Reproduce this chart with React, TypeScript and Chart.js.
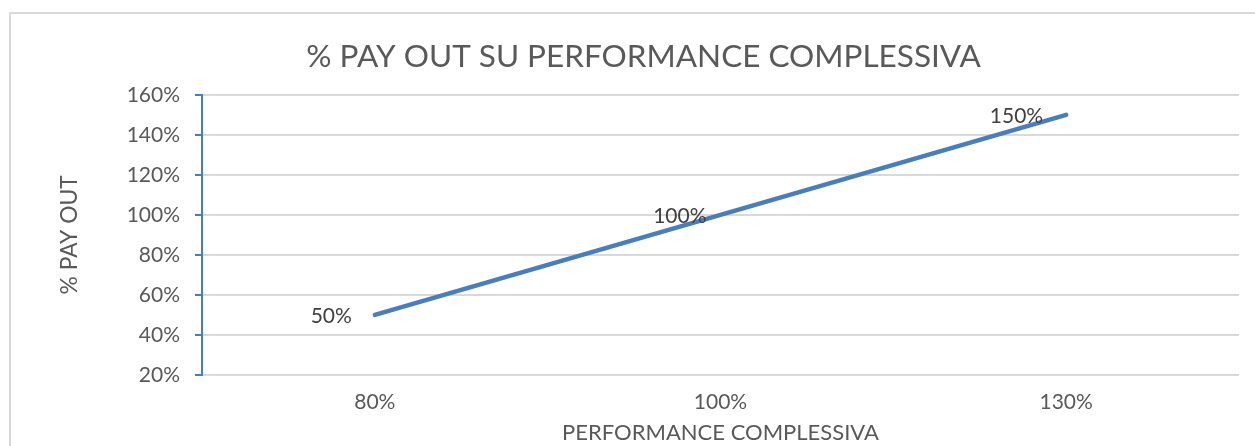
import React, { useEffect, useRef } from "react";
import { Chart, registerables } from "chart.js";

Chart.register(...registerables);

const chartTitle = "% PAY OUT SU PERFORMANCE COMPLESSIVA";
const xAxisTitle = "PERFORMANCE COMPLESSIVA";
const yAxisTitle = "% PAY OUT";
const categories = ["80%", "100%", "130%"];
const payOut = [50, 100, 150];
const yMin = 20;
const yMax = 160;
const yStep = 20;

const FONT = "Lato, 'Open Sans', sans-serif";
const labelGaps = [23, 14, 23];

const framePlugin = {
  id: "frame",
  beforeDraw(chart: any) {
    const ctx = chart.ctx;
    ctx.save();
    ctx.fillStyle = "#ffffff";
    ctx.fillRect(0, 0, chart.width, chart.height);
    ctx.strokeStyle = "#d9d9d9";
    ctx.lineWidth = 2;
    ctx.beginPath();
    ctx.moveTo(10, chart.height + 5);
    ctx.lineTo(10, 13);
    ctx.lineTo(chart.width + 5, 13);
    ctx.stroke();
    ctx.restore();
  },
};

const labelPlugin = {
  id: "pointLabels",
  afterDatasetsDraw(chart: any) {
    const ctx = chart.ctx;
    const meta = chart.getDatasetMeta(0);
    const data = chart.data.datasets[0].data as number[];
    ctx.save();
    ctx.font = `21px ${FONT}`;
    ctx.fillStyle = "#404040";
    ctx.textAlign = "right";
    ctx.textBaseline = "middle";
    meta.data.forEach((pt: any, i: number) => {
      ctx.fillText(`${data[i]}%`, pt.x - labelGaps[i], pt.y + 1);
    });
    ctx.restore();
  },
};

export default function App() {
  const ref = useRef<HTMLCanvasElement>(null);
  useEffect(() => {
    document.body.style.margin = "0";
    const chart = new Chart(ref.current!, {
      type: "line",
      data: {
        labels: categories,
        datasets: [
          {
            data: payOut,
            borderColor: "#4a7ebb",
            borderWidth: 4.5,
            borderCapStyle: "round",
            borderJoinStyle: "round",
            pointRadius: 0,
            pointHoverRadius: 0,
            tension: 0,
            fill: false,
          },
        ],
      },
      options: {
        animation: false,
        responsive: false,
        events: [],
        layout: { padding: { left: 48, right: 16, top: 38, bottom: 0 } },
        plugins: {
          legend: { display: false },
          tooltip: { enabled: false },
          title: {
            display: true,
            text: chartTitle,
            color: "#595959",
            font: { family: FONT, size: 31.5, weight: "normal" },
            padding: { top: 0, bottom: 19 },
          },
        },
        scales: {
          x: {
            type: "category",
            offset: true,
            grid: { display: false, drawTicks: false },
            border: { display: false },
            ticks: {
              color: "#595959",
              font: { family: FONT, size: 21 },
              padding: 15,
            },
            title: {
              display: true,
              text: xAxisTitle,
              color: "#595959",
              font: { family: FONT, size: 22 },
              padding: { top: 0, bottom: 0 },
            },
            afterFit(scale: any) {
              scale.height = 71;
            },
          },
          y: {
            min: yMin,
            max: yMax,
            ticks: {
              stepSize: yStep,
              color: "#595959",
              font: { family: FONT, size: 21 },
              padding: 15,
              callback: (v: any) => `${v}%`,
            },
            grid: {
              color: "#d9d9d9",
              lineWidth: 2,
              tickColor: "#4a7ebb",
              tickLength: 7,
              drawTicks: true,
            },
            border: { display: true, color: "#4a7ebb", width: 2 },
            title: {
              display: true,
              text: yAxisTitle,
              color: "#595959",
              font: { family: FONT, size: 22.8 },
              padding: { top: 8, bottom: 0 },
            },
            afterFit(scale: any) {
              scale.width = 154;
            },
          },
        },
      },
      plugins: [framePlugin, labelPlugin],
    });
    return () => chart.destroy();
  }, []);
  return (
    <div style={{ width: 1255, height: 446 }}>
      <canvas ref={ref} width={1255} height={446} style={{ display: "block" }} />
    </div>
  );
}
